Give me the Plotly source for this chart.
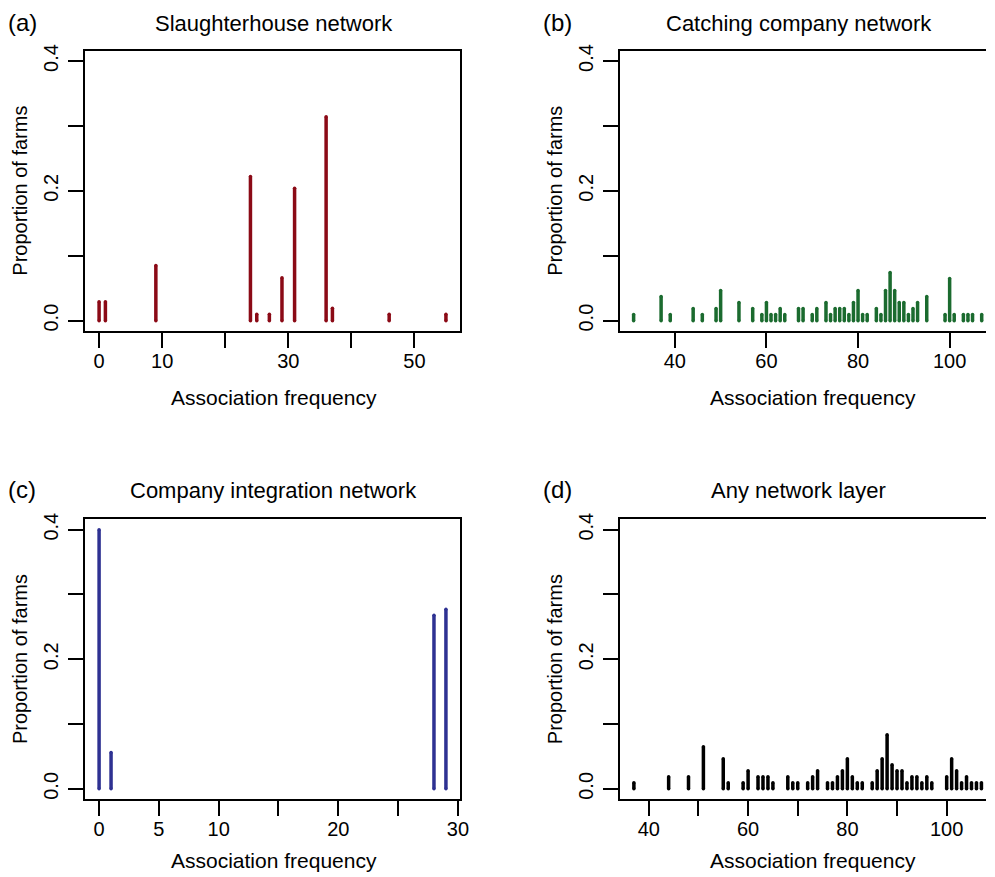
import plotly.graph_objects as go

W, H = 995, 877

# ---------------- data ----------------
slaughter_x = [0, 1, 9, 24, 25, 27, 29, 31, 36, 37, 46, 55]
slaughter_p = [0.029, 0.029, 0.085, 0.222, 0.010, 0.010, 0.066, 0.204, 0.314, 0.019, 0.010, 0.010]

catch_x = [31, 37, 39, 44, 46, 49, 50, 54, 57, 59, 60, 61, 62, 63, 64, 67, 68, 70, 71, 73,
           74, 75, 76, 77, 78, 79, 80, 81, 82, 84, 85, 86, 87, 88, 89, 90, 91, 92, 93, 95,
           99, 100, 101, 103, 104, 105, 107]
catch_n = [1, 4, 1, 2, 1, 2, 5, 3, 2, 1, 3, 1, 1, 2, 1, 2, 2, 1, 2, 3,
           1, 2, 2, 2, 1, 3, 5, 1, 1, 2, 1, 5, 8, 5, 3, 3, 1, 2, 3, 4,
           1, 7, 1, 1, 1, 1, 1]

integ_x = [0, 1, 28, 29]
integ_p = [0.400, 0.056, 0.268, 0.277]

any_x = [37, 44, 48, 51, 55, 56, 59, 60, 62, 63, 64, 65, 68, 69, 70, 72, 73, 74, 76, 77,
         78, 79, 80, 81, 82, 83, 85, 86, 87, 88, 89, 90, 91, 92, 93, 94, 95, 96, 97, 100,
         101, 102, 103, 104, 105, 106, 107]
any_n = [1, 2, 2, 7, 5, 1, 1, 3, 2, 2, 2, 1, 2, 1, 1, 1, 2, 3, 1, 1,
         2, 3, 5, 2, 1, 1, 1, 3, 5, 9, 4, 3, 3, 1, 2, 2, 1, 2, 1, 2,
         5, 3, 1, 2, 1, 1, 1]
N_FARMS = 108
catch_p = [n / N_FARMS for n in catch_n]
any_p = [n / N_FARMS for n in any_n]

titles = ["Slaughterhouse network", "Catching company network",
          "Company integration network", "Any network layer"]
letters = ["(a)", "(b)", "(c)", "(d)"]
colors = ["#8B0A16", "#1B6B2F", "#2E3192", "#000000"]

y_tickvals = [0, 0.1, 0.2, 0.3, 0.4]
y_ticktext = ["0.0", "", "0.2", "", "0.4"]

xa_tickvals = [0, 10, 20, 30, 40, 50]
xa_ticktext = ["0", "10", "", "30", "", "50"]
xb_tickvals = [40, 60, 80, 100]
xb_ticktext = ["40", "60", "80", "100"]
xc_tickvals = [0, 5, 10, 15, 20, 25, 30]
xc_ticktext = ["0", "5", "10", "", "20", "", "30"]
xd_tickvals = [40, 50, 60, 70, 80, 90, 100]
xd_ticktext = ["40", "", "60", "", "80", "", "100"]

# ---------------- layout geometry (pixels) ----------------
panels = [
    dict(x=slaughter_x, y=slaughter_p, xr=[-2.2, 57.2], px=(86, 464), py=(44, 327),
         tv=xa_tickvals, tt=xa_ticktext, box=True, tc=276, xtc=277, tty=17, xty=394),
    dict(x=catch_x, y=catch_p, xr=[28.1, 107.94], px=(626, 995), py=(44, 327),
         tv=xb_tickvals, tt=xb_ticktext, box=False, tc=806, xtc=820, tty=17, xty=394),
    dict(x=integ_x, y=integ_p, xr=[-1.16, 30.16], px=(86, 464), py=(517, 799.5),
         tv=xc_tickvals, tt=xc_ticktext, box=True, tc=276, xtc=277, tty=488, xty=861),
    dict(x=any_x, y=any_p, xr=[34.27, 107.92], px=(626, 995), py=(517, 799.5),
         tv=xd_tickvals, tt=xd_ticktext, box=False, tc=806, xtc=820, tty=488, xty=861),
]


def fx(p):
    return p / W


def fy(p):
    return 1 - p / H


FONT = "Liberation Sans, Arial, Helvetica, sans-serif"
fig = go.Figure()
annotations = []
layout = {}

for i, pnl in enumerate(panels):
    k = "" if i == 0 else str(i + 1)
    xs, ys = [], []
    for xv, yv in zip(pnl["x"], pnl["y"]):
        xs += [xv, xv, None]
        ys += [0, yv, None]
    fig.add_trace(go.Scatter(x=xs, y=ys, mode="lines+markers", xaxis="x" + k, yaxis="y" + k,
                             line=dict(color=colors[i], width=3.5),
                             marker=dict(color=colors[i], size=3.5, line=dict(width=0)),
                             showlegend=False, hoverinfo="skip", cliponaxis=True))
    layout["xaxis" + k] = dict(
        domain=[fx(pnl["px"][0]), min(1.0, fx(pnl["px"][1]))],
        range=pnl["xr"], anchor="y" + k,
        tickmode="array", tickvals=pnl["tv"], ticktext=pnl["tt"],
        ticks="outside", ticklen=15, tickwidth=2, tickcolor="black",
        showline=True, linewidth=2, linecolor="black", mirror=True,
        showgrid=False, zeroline=False, ticklabelstandoff=-4,
        tickfont=dict(family=FONT, size=20, color="black"),
    )
    layout["yaxis" + k] = dict(
        domain=[fy(pnl["py"][1]), fy(pnl["py"][0])],
        range=[-0.016, 0.416], anchor="x" + k,
        tickmode="array", tickvals=y_tickvals, ticktext=y_ticktext,
        ticks="outside", ticklen=15, tickwidth=2, tickcolor="black",
        showline=True, linewidth=2, linecolor="black", mirror=pnl["box"],
        showgrid=False, zeroline=False, tickangle=-90, ticklabelstandoff=2,
        tickfont=dict(family=FONT, size=20, color="black"),
    )
    xl = pnl["px"][0]
    yt, yb = pnl["py"]
    # title
    annotations.append(dict(text=titles[i], x=fx(pnl["tc"]), y=fy(pnl["tty"]), xref="paper",
                            yref="paper", showarrow=False, xanchor="center", yanchor="middle",
                            font=dict(family=FONT, size=22, color="black")))
    # letter
    annotations.append(dict(text=letters[i], x=fx(xl - 80), y=fy(pnl["tty"] - 1), xref="paper",
                            yref="paper", showarrow=False, xanchor="left", yanchor="middle",
                            font=dict(family=FONT, size=24, color="black")))
    # x title
    annotations.append(dict(text="Association frequency", x=fx(pnl["xtc"]), y=fy(pnl["xty"]),
                            xref="paper", yref="paper", showarrow=False, xanchor="center",
                            yanchor="middle", font=dict(family=FONT, size=21, color="black")))
    # y title
    annotations.append(dict(text="Proportion of farms", x=fx(xl - 66), y=fy((yt + yb) / 2),
                            xref="paper", yref="paper", showarrow=False, textangle=-90,
                            xanchor="center", yanchor="middle",
                            font=dict(family=FONT, size=20, color="black")))

fig.update_layout(width=W, height=H, margin=dict(l=0, r=0, t=0, b=0),
                  paper_bgcolor="white", plot_bgcolor="white",
                  annotations=annotations, **layout)
fig.write_html("out.html")
